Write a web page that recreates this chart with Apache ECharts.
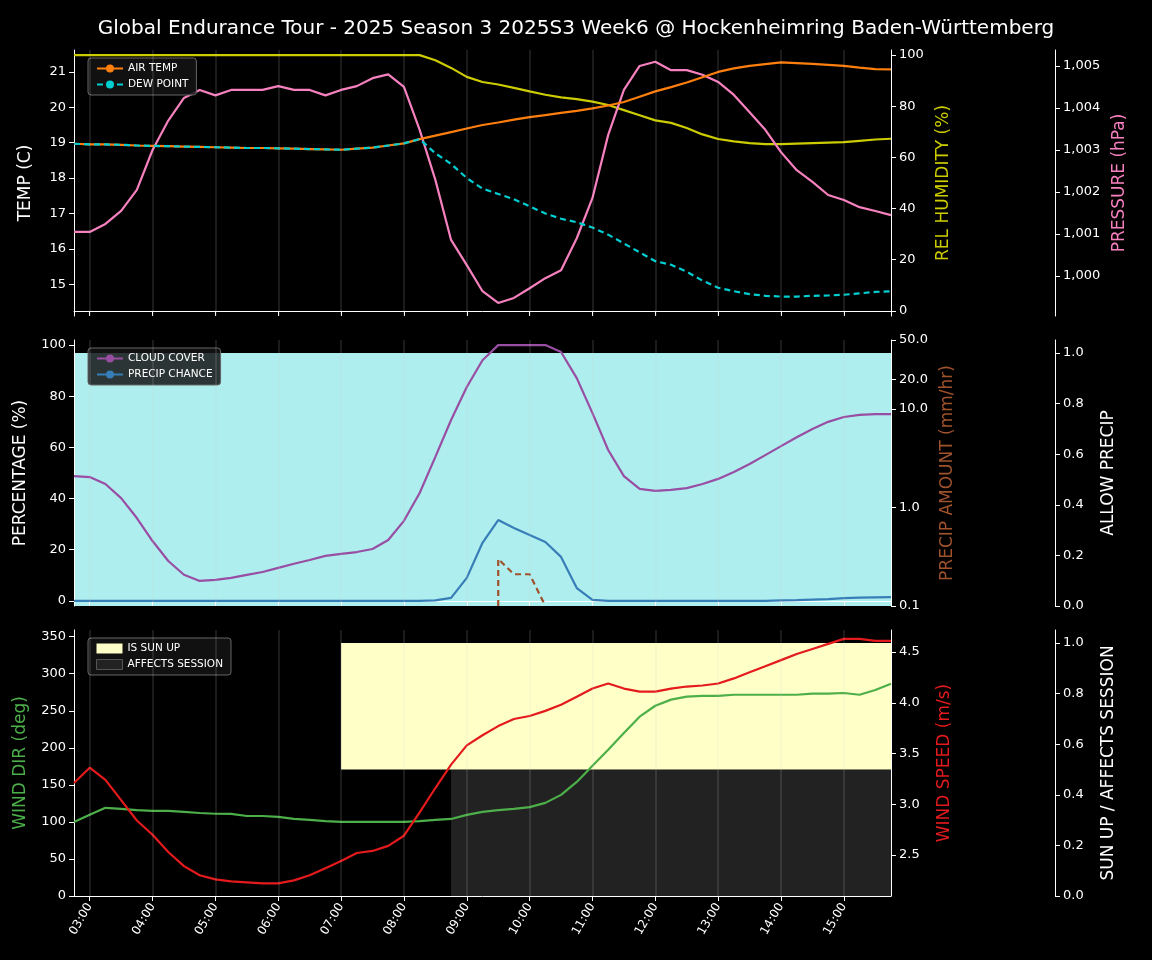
<!DOCTYPE html>
<html><head><meta charset="utf-8">
<script src="https://cdn.jsdelivr.net/npm/echarts@6/dist/echarts.min.js"></script>
<style>html,body{margin:0;background:#000}#c{width:1152px;height:960px}</style>
</head><body><div id="c"></div>
<script>
const times=["02:45","03:00","03:15","03:30","03:45","04:00","04:15","04:30","04:45","05:00","05:15","05:30","05:45","06:00","06:15","06:30","06:45","07:00","07:15","07:30","07:45","08:00","08:15","08:30","08:45","09:00","09:15","09:30","09:45","10:00","10:15","10:30","10:45","11:00","11:15","11:30","11:45","12:00","12:15","12:30","12:45","13:00","13:15","13:30","13:45","14:00","14:15","14:30","14:45","15:00","15:15","15:30","15:45"];
const hourLabels=["03:00","04:00","05:00","06:00","07:00","08:00","09:00","10:00","11:00","12:00","13:00","14:00","15:00"];
const dewPoint=[18.97,18.95,18.95,18.94,18.92,18.91,18.9,18.89,18.88,18.87,18.86,18.85,18.85,18.84,18.83,18.82,18.81,18.8,18.83,18.86,18.92,18.98,19.1,18.7,18.4,18.0,17.7,17.55,17.4,17.2,17.0,16.85,16.75,16.6,16.4,16.15,15.9,15.65,15.55,15.35,15.1,14.9,14.8,14.72,14.67,14.65,14.65,14.67,14.68,14.7,14.74,14.78,14.8];
const airTemp=[18.97,18.95,18.95,18.94,18.92,18.91,18.9,18.89,18.88,18.87,18.86,18.85,18.85,18.84,18.83,18.82,18.81,18.8,18.83,18.86,18.92,18.98,19.1,19.2,19.3,19.4,19.5,19.57,19.65,19.72,19.78,19.84,19.9,19.97,20.05,20.15,20.3,20.45,20.57,20.7,20.85,21.0,21.1,21.17,21.22,21.27,21.25,21.23,21.2,21.17,21.12,21.08,21.07];
const humidity=[100,100,100,100,100,100,100,100,100,100,100,100,100,100,100,100,100,100,100,100,100,100,100,98,95,91.5,89.5,88.5,87.2,85.8,84.5,83.5,82.8,81.8,80.5,78.5,76.5,74.5,73.5,71.5,69,67.2,66.3,65.6,65.2,65.2,65.4,65.6,65.8,66,66.5,67,67.3];
const pressure=[1001.05,1001.05,1001.24,1001.55,1002.05,1003.0,1003.7,1004.24,1004.43,1004.3,1004.43,1004.43,1004.43,1004.52,1004.43,1004.43,1004.3,1004.43,1004.52,1004.71,1004.8,1004.5,1003.48,1002.29,1000.86,1000.26,999.64,999.36,999.48,999.71,999.95,1000.14,1000.9,1001.86,1003.36,1004.43,1005.0,1005.1,1004.9,1004.9,1004.79,1004.62,1004.31,1003.9,1003.48,1002.95,1002.52,1002.24,1001.93,1001.81,1001.64,1001.55,1001.45];
const cloudCover=[48.8,48.4,45.7,40.2,32.4,23.4,15.6,10.2,7.8,8.2,9,10.2,11.3,12.9,14.5,16,17.6,18.4,19.1,20.3,23.8,31.3,42.2,56.3,70.7,83.6,94.1,100,100,100,100,97.3,87.1,73.4,59,48.8,43.8,43,43.4,44.1,45.7,47.7,50.4,53.5,57,60.5,64,67.2,70,71.9,72.7,73,73];
const precipChance=[0,0,0,0,0,0,0,0,0,0,0,0,0,0,0,0,0,0,0,0,0,0,0,0.2,1.2,9,22.7,31.6,28.5,25.8,23,17.2,5,0.4,0,0,0,0,0,0,0,0,0,0,0,0.2,0.3,0.5,0.7,1.1,1.3,1.4,1.5];
const precipAmtTimes=["09:30","09:30","09:45","10:00","10:15"];
const precipAmt=[0.1,0.3,0.21,0.21,0.1];
const allowPrecip=times.map(()=>1);
const windDir=[100,109.5,119,117.6,116,115,115,113.5,112,111,110.8,108,108,106.7,104,102.7,101,100,100,100,100,100,101,102.7,104,109.5,113.5,116,117.6,120,125.7,136.5,154,175.7,197.3,220,242,256.8,265,269,270,270,271.6,271.6,271.6,271.6,271.6,273,273,274,271.6,278,286.5];
const windSpeed=[3.21,3.36,3.24,3.04,2.84,2.70,2.53,2.39,2.30,2.26,2.24,2.23,2.22,2.22,2.25,2.30,2.37,2.44,2.52,2.54,2.59,2.69,2.92,3.16,3.39,3.58,3.68,3.77,3.84,3.87,3.92,3.98,4.06,4.14,4.19,4.14,4.11,4.11,4.14,4.16,4.17,4.19,4.24,4.30,4.36,4.42,4.48,4.53,4.58,4.63,4.63,4.61,4.61];
const sunUp=[0,0,0,0,0,0,0,0,0,0,0,0,0,0,0,0,0,1,1,1,1,1,1,1,1,1,1,1,1,1,1,1,1,1,1,1,1,1,1,1,1,1,1,1,1,1,1,1,1,1,1,1,1];
const affectsSession=[0,0,0,0,0,0,0,0,0,0,0,0,0,0,0,0,0,0,0,0,0,0,0,0,1,1,1,1,1,1,1,1,1,1,1,1,1,1,1,1,1,1,1,1,1,1,1,1,1,1,1,1,1];

const toMin=s=>{const [h,m]=s.split(':').map(Number);return h*60+m;};
const X=times.map(toMin);
const hourMins=hourLabels.map(toMin);
const pair=(arr)=>arr.map((v,i)=>[X[i],v]);
const pad=n=>String(n).padStart(2,'0');
const font='DejaVu Sans';
const W='#ffffff';
const grids=[{top:50,height:266},{top:340,height:266},{top:630,height:266}].map(g=>({left:74,right:261,top:g.top,height:g.height}));
const xAxes=[0,1,2].map(i=>({type:'value',gridIndex:i,min:165,max:945,
  axisLine:{show:true,lineStyle:{color:W}},splitLine:{show:false},
  axisTick:{show:true,customValues:hourMins,lineStyle:{color:W},length:5},
  axisLabel:{show:i===2,customValues:hourMins,rotate:60,color:W,fontFamily:font,fontSize:12,
    formatter:v=>pad(Math.floor(v/60))+':'+pad(v%60)}}));
function yA(o){return Object.assign({type:'value',axisLine:{show:true,lineStyle:{color:W}},splitLine:{show:false},
  axisTick:{show:true,lineStyle:{color:W},length:5},nameLocation:'middle',nameTextStyle:{fontFamily:font,fontSize:17},
  },o,{axisLabel:Object.assign({color:W,fontFamily:font,fontSize:13},o.axisLabel||{}),axisTick:Object.assign({show:true,lineStyle:{color:W},length:5},o.axisTick||{})});}
const rng=(a,b,s)=>{const r=[];for(let v=a;v<=b+1e-9;v+=s)r.push(+v.toFixed(4));return r;};
const yAxes=[
 yA({gridIndex:0,min:14.1,max:21.62,name:'TEMP (C)',nameGap:40,nameTextStyle:{color:W,fontSize:17,fontFamily:font},axisLabel:{customValues:rng(15,21,1)},axisTick:{customValues:rng(15,21,1)}}),
 yA({gridIndex:0,position:'right',min:-2,max:102,name:'REL HUMIDITY (%)',nameGap:40,nameTextStyle:{color:'#cccc00',fontSize:17,fontFamily:font},axisLabel:{customValues:rng(0,100,20)},axisTick:{customValues:rng(0,100,20)}}),
 yA({gridIndex:0,position:'right',offset:164,min:999.05,max:1005.38,name:'PRESSURE (hPa)',nameGap:50,nameTextStyle:{color:'#f781bf',fontSize:17,fontFamily:font},axisLabel:{customValues:rng(1000,1005,1)},axisTick:{customValues:rng(1000,1005,1)}}),
 yA({gridIndex:1,min:-2,max:102,name:'PERCENTAGE (%)',nameGap:45,nameTextStyle:{color:W,fontSize:17,fontFamily:font},axisLabel:{customValues:rng(0,100,20)},axisTick:{customValues:rng(0,100,20)}}),
 yA({gridIndex:1,position:'right',min:-1,max:1.699,name:'PRECIP AMOUNT (mm/hr)',nameGap:45,nameTextStyle:{color:'#a0522d',fontSize:17,fontFamily:font},axisLabel:{customValues:[-1,0,1,Math.log10(20),Math.log10(50)],formatter:v=>Math.pow(10,v).toFixed(1)},axisTick:{customValues:[-1,0,1,Math.log10(20),Math.log10(50)]}}),
 yA({gridIndex:1,position:'right',offset:164,min:0,max:1.051,name:'ALLOW PRECIP',nameGap:45,nameTextStyle:{color:W,fontSize:17,fontFamily:font},axisLabel:{customValues:rng(0,1,0.2),formatter:v=>v.toFixed(1)},axisTick:{customValues:rng(0,1,0.2)}}),
 yA({gridIndex:2,min:0,max:359,name:'WIND DIR (deg)',nameGap:45,nameTextStyle:{color:'#4daf4a',fontSize:17,fontFamily:font},axisLabel:{customValues:rng(0,350,50)},axisTick:{customValues:rng(0,350,50)}}),
 yA({gridIndex:2,position:'right',min:2.096,max:4.717,name:'WIND SPEED (m/s)',nameGap:45,nameTextStyle:{color:'#e41a1c',fontSize:17,fontFamily:font},axisLabel:{customValues:rng(2.5,4.5,0.5),formatter:v=>v.toFixed(1)},axisTick:{customValues:rng(2.5,4.5,0.5)}}),
 yA({gridIndex:2,position:'right',offset:164,min:0,max:1.051,name:'SUN UP / AFFECTS SESSION',nameGap:45,nameTextStyle:{color:W,fontSize:17,fontFamily:font},axisLabel:{customValues:rng(0,1,0.2),formatter:v=>v.toFixed(1)},axisTick:{customValues:rng(0,1,0.2)}})
];
const gridLines=g=>({silent:true,symbol:['none','none'],label:{show:false},lineStyle:{color:'rgba(200,200,200,0.18)',type:'solid',width:1.5},data:hourMins.map(m=>({xAxis:m}))});
const line=(name,xi,yi,data,color,extra)=>Object.assign({name,type:'line',xAxisIndex:xi,yAxisIndex:yi,data,symbol:'none',lineStyle:{color,width:2.2},itemStyle:{color},z:3},extra||{});
const series=[
 line('gl0',0,0,[],'#000',{markLine:gridLines(),z:1}),
 line('REL HUMIDITY',0,1,pair(humidity),'#cccc00'),
 line('PRESSURE',0,2,pair(pressure),'#f781bf'),
 line('AIR TEMP',0,0,pair(airTemp),'#ff7f0e'),
 line('DEW POINT',0,0,pair(dewPoint),'#00ced1',{lineStyle:{color:'#00ced1',width:2.2,type:[6,4]},z:4}),
 line('allow',1,5,pair(allowPrecip),'#afeeee',{lineStyle:{width:0},areaStyle:{color:'#afeeee',opacity:1},z:0,markLine:gridLines()}),
 line('CLOUD COVER',1,3,pair(cloudCover),'#984ea3'),
 line('PRECIP CHANCE',1,3,pair(precipChance),'#377eb8'),
 line('PRECIP AMT',1,4,precipAmtTimes.map((t,i)=>[toMin(t),Math.log10(precipAmt[i])]),'#a0522d',{lineStyle:{color:'#a0522d',width:2.2,type:[6,4]}}),
 line('AFFECTS SESSION',2,8,pair(affectsSession.map(v=>v*0.5)),'#222222',{step:'end',lineStyle:{width:0},areaStyle:{color:'#222222',opacity:1,origin:0},z:1,markLine:gridLines()}),
 line('IS SUN UP',2,8,pair(sunUp.map(v=>v?1:0.5)),'#ffffc8',{step:'end',lineStyle:{width:0},areaStyle:{color:'#ffffc8',opacity:1,origin:0.5},z:1}),
 line('WIND DIR',2,6,pair(windDir),'#4daf4a'),
 line('WIND SPEED',2,7,pair(windSpeed),'#e41a1c')
];
const lg=(top,data)=>({top,left:88,orient:'vertical',data,backgroundColor:'rgba(20,20,20,0.85)',borderColor:'#666',borderWidth:1,borderRadius:3,padding:[5,8],itemGap:5,itemWidth:26,itemHeight:10,textStyle:{color:W,fontFamily:font,fontSize:10.5},selectedMode:false});
const option={backgroundColor:'#000',animation:false,
 title:{text:'Global Endurance Tour - 2025 Season 3 2025S3 Week6 @ Hockenheimring Baden-Württemberg',left:'center',top:14,textStyle:{color:W,fontFamily:font,fontSize:20,fontWeight:'normal'}},
 grid:grids,xAxis:xAxes,yAxis:yAxes,series,
 legend:[lg(58,['AIR TEMP','DEW POINT']),lg(348,['CLOUD COVER','PRECIP CHANCE']),
  lg(638,[{name:'IS SUN UP',icon:'rect'},{name:'AFFECTS SESSION',icon:'rect',itemStyle:{borderColor:'#555',borderWidth:1}}])]
};
echarts.init(document.getElementById('c')).setOption(option);
</script></body></html>
